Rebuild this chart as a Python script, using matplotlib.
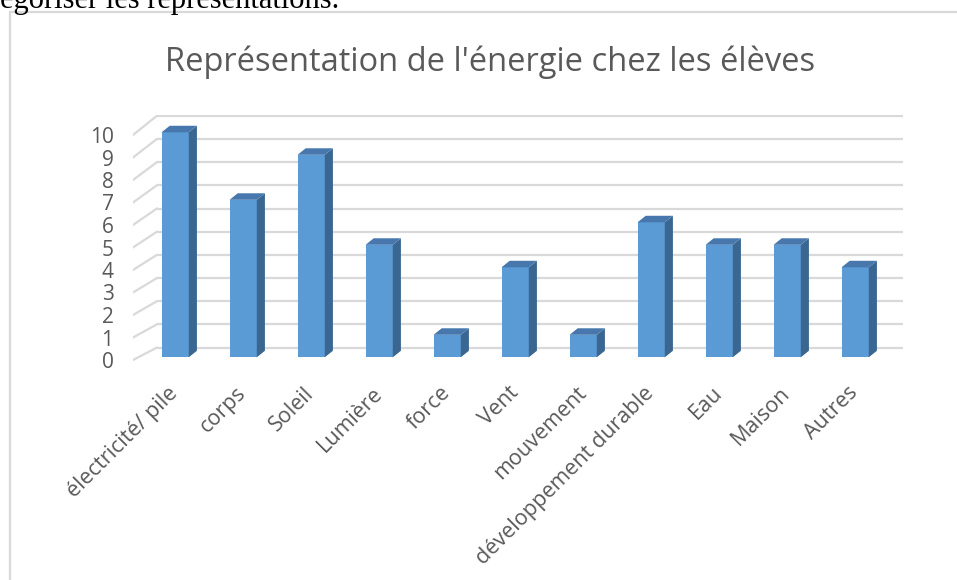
import matplotlib
matplotlib.use("Agg")
import matplotlib.pyplot as plt
from matplotlib.patches import Polygon, Rectangle

categories = ["électricité/ pile", "corps", "Soleil", "Lumière", "force", "Vent",
              "mouvement", "développement durable", "Eau", "Maison", "Autres"]
values = [10, 7, 9, 5, 1, 4, 1, 6, 5, 5, 4]
yticks = list(range(0, 11))
title = "Représentation de l'énergie chez les élèves"
header = "égoriser les représentations."

FRONT = "#5B9BD5"
SIDE = "#3A6791"
TOP = "#4777AC"
GRID = "#D9D9D9"
TXT = "#595959"

plt.rcParams['font.family'] = ['Open Sans', 'DejaVu Sans']

fig = plt.figure(figsize=(9.57, 5.8), dpi=100)
W, H = 957, 580

# document header text (cut off at the top, as in the screenshot)
fig.text(0 / W, 1 - 8 / H, header, ha='left', va='baseline',
         fontsize=22, family=['Liberation Serif', 'DejaVu Serif'], color='black')

# chart frame
fig.add_artist(Rectangle((10 / W, -0.05), 1.2, 1 - 12 / H + 0.05,
                         transform=fig.transFigure, fill=False,
                         edgecolor=GRID, lw=1.6))

fig.text(490 / W, 1 - 62 / H, title, ha='center', va='center',
         fontsize=23.5, color=TXT)

xmin, xmax = -0.62, 10.7
ymin, ymax = -0.1, 10.9
px_x, px_y = 68.0, 22.5
left_px, bottom_px = 133, 360 + 0.1 * px_y
ax = fig.add_axes([left_px / W, 1 - bottom_px / H,
                   (xmax - xmin) * px_x / W, (ymax - ymin) * px_y / H])
ax.set_xlim(xmin, xmax)
ax.set_ylim(ymin, ymax)
for s in ax.spines.values():
    s.set_visible(False)

DX, DY = 0.35, 0.55
for v in yticks:
    dy = DY + 0.03 * v
    ax.plot([xmin + DX, xmax], [v + dy, v + dy], color=GRID, lw=1.6, zorder=1,
            solid_capstyle='butt')
    ax.plot([xmin, xmin + DX], [v, v + dy], color=GRID, lw=1.6, zorder=1)

x = list(range(len(categories)))
w = 0.4
off = 0.12
dxb, dyb = 0.12, 0.29
ax.bar(x, values, width=w, bottom=off, color=FRONT, zorder=3, linewidth=0)
for xi, v in zip(x, values):
    side = [(xi + w / 2, off), (xi + w / 2 + dxb, off + dyb),
            (xi + w / 2 + dxb, v + off + dyb), (xi + w / 2, v + off)]
    top = [(xi - w / 2, v + off), (xi + w / 2, v + off),
           (xi + w / 2 + dxb, v + off + dyb), (xi - w / 2 + dxb, v + off + dyb)]
    ax.add_patch(Polygon(side, closed=True, facecolor=SIDE, edgecolor='none', zorder=3))
    ax.add_patch(Polygon(top, closed=True, facecolor=TOP, edgecolor='none', zorder=3))

ax.set_yticks(yticks)
ax.set_yticklabels([str(t) for t in yticks], fontsize=15, color=TXT)
ax.tick_params(axis='y', length=0, pad=14)
ax.set_xticks(x)
ax.set_xticklabels(categories, rotation=45, ha='right', va='center',
                   rotation_mode='anchor', fontsize=15.5, color=TXT)
ax.tick_params(axis='x', length=0, pad=20)
ax.patch.set_visible(False)

fig.savefig("out.png", dpi=100)
